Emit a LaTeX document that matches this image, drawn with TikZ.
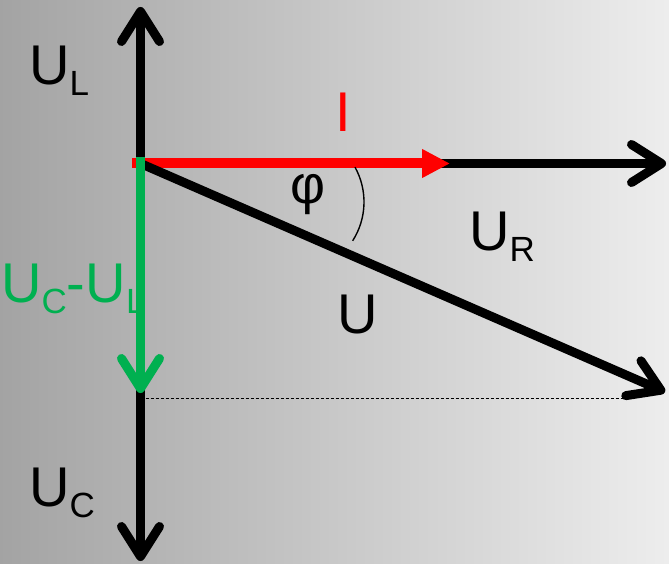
\documentclass[tikz,border=0pt]{standalone}
\usepackage{fontspec}
\setmainfont{Liberation Sans}
\usetikzlibrary{arrows.meta}
\definecolor{vgreen}{HTML}{00B050}
\definecolor{vred}{HTML}{FF0000}
\newcommand\subsc[1]{\raisebox{-11pt}{\fontsize{35}{35}\selectfont #1}}
\begin{document}
\begin{tikzpicture}[x=1pt,y=-1pt,
  chev/.style={line width=9pt,-{Straight Barb[length=30pt,width=38pt,line cap=round,line join=round]}},
  redarr/.style={line width=10pt,vred,-{Triangle[length=28pt,width=27pt]}},
  lab/.style={anchor=base west,inner sep=0pt,font=\fontsize{56}{56}\selectfont}]
\shade[left color=black!36,right color=black!7] (0,0) rectangle (669,564);
\useasboundingbox (0,0) rectangle (669,564);
\coordinate (O) at (140.5,163.5);
\coordinate (top) at (140.5,7);
\coordinate (bot) at (140.5,561);
\coordinate (R) at (666,163.5);
\coordinate (Ired) at (450,163.5);
\coordinate (Istart) at (132,163.5);
\coordinate (Utip) at (665,392);
\coordinate (G0) at (140.5,157);
\coordinate (G1) at (140.5,393);
\coordinate (D0) at (140.5,398);
\coordinate (D1) at (628,398);
\coordinate (AC) at (292,202);
% dashed projection
\draw[line width=0.8pt,dash pattern=on 3pt off 2pt] (D0) -- (D1);
% axes
\draw[chev] (O) -- (top);
\draw[chev] (O) -- (bot);
\draw[chev] (O) -- (R);
% current
\draw[redarr] (Istart) -- (Ired);
% total voltage
\draw[chev] (O) -- (Utip);
% angle arc
\draw[line width=1.4pt] (AC) ++(-29:72) arc[start angle=-29,end angle=32.6,radius=72];
% UC-UL
\draw[chev,vgreen] (G0) -- (G1);
% labels
\node[lab] (tUL) at (29,85) {U\subsc{L}};
\node[lab,text=vred] (tI) at (335,132) {I};
\node[anchor=base,inner sep=0pt,font=\fontsize{54}{54}\selectfont] (tphi) at (308,204) {φ};
\node[lab] (tUR) at (469,250) {U\subsc{R}};
\node[lab] (tU) at (337,333) {U};
\node[lab,text=vgreen] (tUCL) at (1,302) {U\subsc{C}-U\subsc{L}};
\node[lab] (tUC) at (29,506) {U\subsc{C}};
\end{tikzpicture}
\end{document}
